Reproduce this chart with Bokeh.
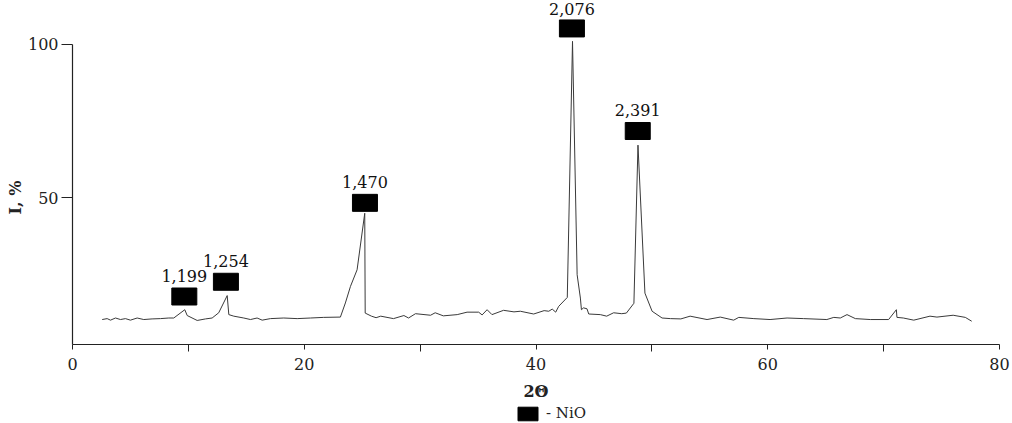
from bokeh.plotting import figure
from bokeh.layouts import column
from bokeh.models import Range1d, FixedTicker, Legend, LegendItem, ColumnDataSource
from bokeh.core.properties import value
from bokeh.embed import file_html
from bokeh.resources import INLINE

# ---- data ----
two_theta = [2.56, 2.99, 3.28, 3.71, 4.14, 4.57, 5.0, 5.58, 6.15, 6.87, 7.59, 8.31, 8.74,
             9.69, 9.9, 10.76, 11.48, 12.05, 12.62, 13.35, 13.49, 13.92, 14.78, 15.36, 15.93,
             16.37, 17.08, 18.23, 19.39, 20.54, 21.68, 23.12, 23.55, 23.99, 24.56, 25.22, 25.26,
             25.8, 26.2, 26.6, 27.7, 28.6, 29.0, 29.6, 30.9, 31.3, 32.0, 33.2, 34.05, 35.05,
             35.35, 35.78, 36.2, 37.2, 38.1, 38.65, 39.8, 40.7, 41.1, 41.4, 41.7, 41.96, 42.7,
             43.15, 43.55, 43.83, 43.92, 44.1, 44.4, 44.55, 45.55, 46.1, 46.7, 47.4, 47.8, 48.45,
             48.8, 49.4, 50.02, 50.88, 51.6, 52.5, 53.3, 54.76, 55.9, 57.06, 57.5, 58.8, 60.2,
             61.67, 63.1, 65.1, 65.7, 66.26, 66.84, 67.56, 68.85, 70.43, 71.1, 71.15, 71.7,
             72.6, 74.0, 74.6, 76.0, 77.05, 77.6]
intensity = [10.4, 10.7, 10.2, 10.9, 10.4, 10.7, 10.2, 10.9, 10.4, 10.6, 10.7, 10.9, 10.9,
             13.6, 11.7, 10.1, 10.6, 10.9, 12.6, 18.2, 12.0, 11.5, 10.9, 10.4, 10.9,
             10.2, 10.7, 10.9, 10.7, 10.9, 11.1, 11.2, 15.8, 21.2, 26.6, 45.0, 12.5,
             11.5, 11.0, 11.5, 10.7, 11.7, 10.9, 12.3, 11.8, 12.6, 11.6, 12.0, 12.8, 12.8,
             11.9, 13.6, 12.0, 13.4, 12.9, 13.1, 12.2, 13.3, 13.1, 13.8, 12.8, 14.7, 17.6,
             101.0, 25.0, 17.4, 13.6, 14.2, 13.9, 12.2, 12.0, 11.5, 12.6, 12.3, 12.5, 15.7,
             67.2, 19.0, 13.1, 10.9, 10.7, 10.6, 11.5, 10.4, 11.2, 10.2, 11.1, 10.7, 10.4,
             10.9, 10.7, 10.4, 11.1, 10.9, 12.0, 10.7, 10.4, 10.4, 13.6, 11.1, 10.9,
             10.2, 11.5, 11.2, 11.8, 11.1, 9.85]

peak_labels = ["1,199", "1,254", "1,470", "2,076", "2,391"]
peak_x = [9.65, 13.24, 25.24, 43.1, 48.78]
peak_marker_y = [17.9, 22.7, 48.4, 105.2, 71.8]

x_ticks = [0, 20, 40, 60, 80]
x_minor_ticks = [10, 30, 50, 70]
y_ticks = [50, 100]

FONT = "DejaVu Serif"
INK = "#222222"

p = figure(width=1012, height=403, output_backend="svg", toolbar_location=None,
           x_range=Range1d(0, 80), y_range=Range1d(2.27, 114.3),
           min_border_left=72, min_border_right=13, min_border_top=0, min_border_bottom=58)
p.outline_line_color = None
p.grid.visible = False
p.background_fill_color = "white"

p.line(two_theta, intensity, line_color="#3a3a3a", line_width=1)

text_y = [min(v + 6.8, 111.5) for v in peak_marker_y]
src = ColumnDataSource(dict(x=peak_x, y=peak_marker_y, ty=text_y, label=peak_labels))
p.rect("x", "y", width=25, height=17, width_units="screen", height_units="screen",
       source=src, fill_color="black", line_color="black")
p.text("x", "ty", text="label", source=src, text_font=value(FONT), text_font_size="16px",
       text_align="center", text_baseline="middle", text_color="#111111")

# x axis
xa = p.xaxis[0]
xa.ticker = FixedTicker(ticks=x_ticks, minor_ticks=x_minor_ticks)
xa.bounds = (0, 80)
xa.axis_line_color = INK
xa.axis_line_width = 1.2
xa.major_tick_in = 0
xa.major_tick_out = 5
xa.minor_tick_in = 0
xa.minor_tick_out = 7
xa.major_tick_line_color = INK
xa.minor_tick_line_color = INK
xa.major_label_standoff = 6
xa.major_label_text_font = FONT
xa.major_label_text_font_size = "16px"
xa.major_label_text_color = INK
xa.axis_label = "2Θ"
xa.axis_label_text_font = FONT
xa.axis_label_text_font_style = "bold"
xa.axis_label_text_font_size = "16px"
xa.axis_label_text_color = INK
xa.axis_label_standoff = 9

# y axis
ya = p.yaxis[0]
ya.ticker = FixedTicker(ticks=y_ticks, minor_ticks=[])
ya.bounds = (2.27, 100)
ya.axis_line_color = INK
ya.axis_line_width = 1.2
ya.major_tick_in = 0
ya.major_tick_out = 11
ya.minor_tick_in = 0
ya.minor_tick_out = 0
ya.major_tick_line_color = INK
ya.major_label_standoff = 3
ya.major_label_text_font = FONT
ya.major_label_text_font_size = "16px"
ya.major_label_text_color = INK
ya.axis_label = "I, %" + "\u00a0" * 9
ya.axis_label_text_font = FONT
ya.axis_label_text_font_style = "bold"
ya.axis_label_text_font_size = "16px"
ya.axis_label_text_color = INK
ya.axis_label_standoff = 0

# legend strip below the chart (its frame is aligned with the chart's frame)
lg = figure(width=1012, height=20, output_backend="svg", toolbar_location=None,
            x_range=Range1d(0, 1), y_range=Range1d(0, 1),
            x_axis_type=None, y_axis_type=None, min_border=0)
lg.outline_line_color = None
lg.grid.visible = False
# placeholder point kept outside the visible range: only its style feeds the legend key
key = lg.rect(x=[-5], y=[-5], width=1, height=1, fill_color="black", line_color="black")
legend = Legend(items=[LegendItem(label="- NiO", renderers=[key])],
                location=(443, 1), orientation="horizontal",
                glyph_width=25, glyph_height=17, label_height=17, label_width=0,
                label_standoff=6, padding=0, margin=0, spacing=0,
                border_line_color=None, background_fill_alpha=0,
                label_text_font=FONT, label_text_font_size="15px", label_text_color=INK)
lg.add_layout(legend, "center")

open("out.html", "w").write(file_html(column(p, lg), INLINE))
